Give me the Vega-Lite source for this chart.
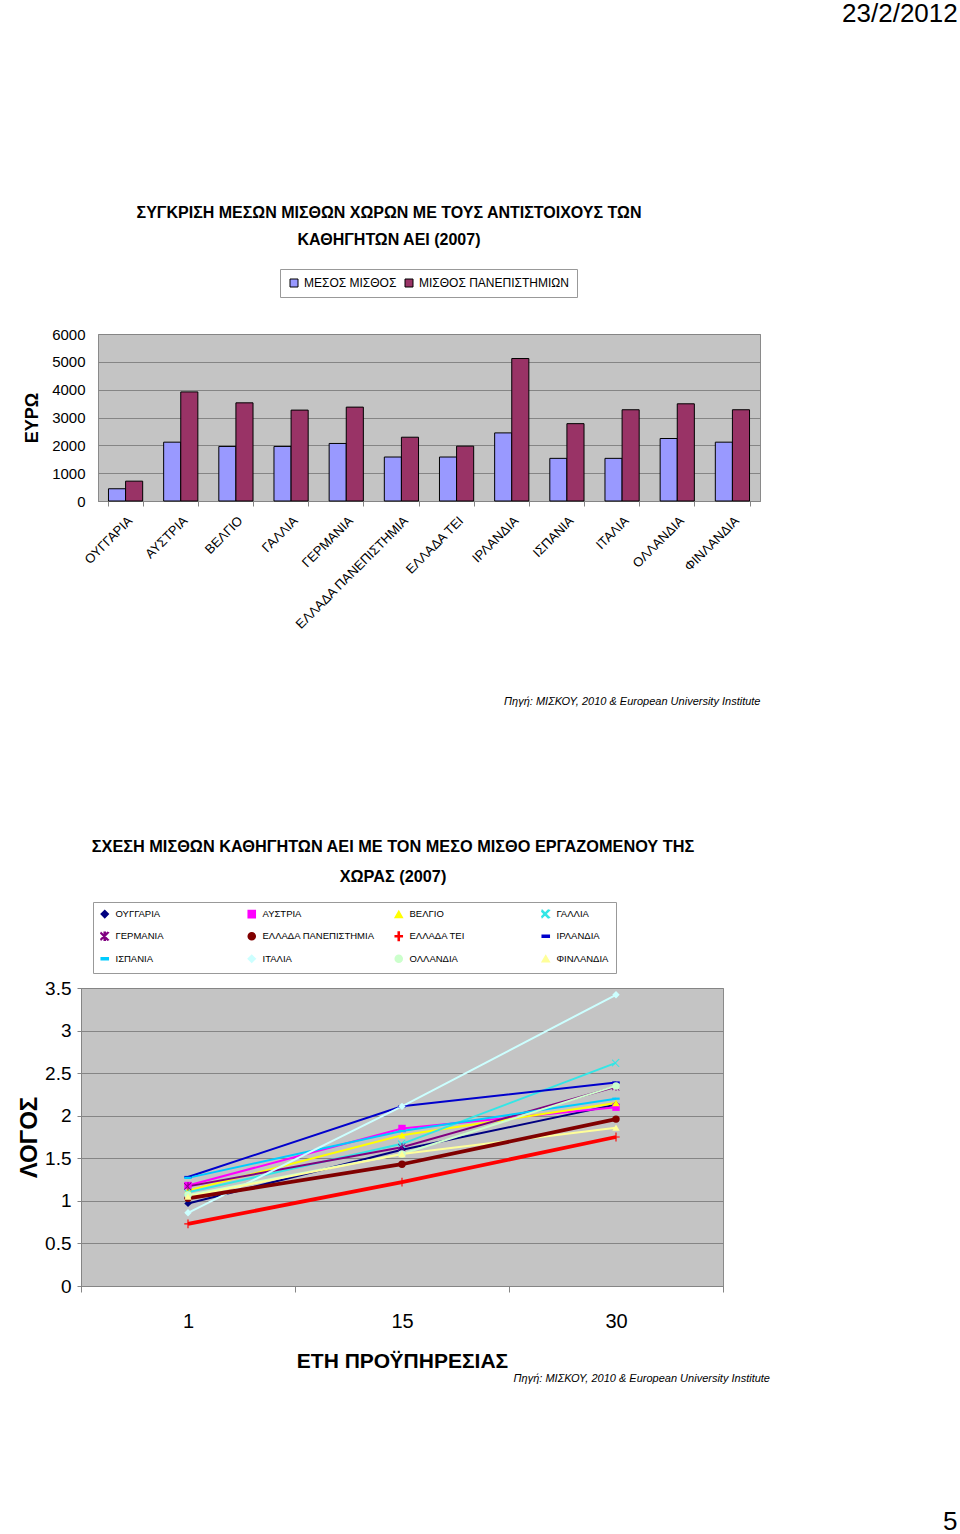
{
  "$schema": "https://vega.github.io/schema/vega-lite/v6.json",
  "padding": {"left": 17, "top": 0, "right": 0, "bottom": 0},
  "background": "white",
  "title": {"text": "23/2/2012", "anchor": "start", "font": "Liberation Sans", "fontSize": 26, "fontWeight": "normal", "color": "black", "offset": 178, "dx": 825},
  "resolve": {"scale": {"fill": "independent", "color": "independent", "shape": "independent"}, "legend": {"fill": "independent", "color": "independent", "shape": "independent"}},
  "vconcat": [
    {
      "title": {"text": "5", "orient": "bottom", "anchor": "start", "font": "Liberation Sans", "fontSize": 26, "fontWeight": "normal", "color": "black", "offset": 125, "dx": 926},
      "columns": 1,
      "spacing": 130,
      "resolve": {"scale": {"x": "independent", "y": "independent", "fill": "independent", "color": "independent", "shape": "independent"}, "legend": {"fill": "independent", "color": "independent", "shape": "independent"}},
      "concat": [
        {
          "spacing": -62,
          "hconcat": [
            {
              "width": 1,
              "height": 1,
              "view": {"stroke": null, "fill": null},
              "data": {"values": [{}]},
              "mark": {"type": "point", "opacity": 0},
              "encoding": {}
            },
            {
              "width": 662,
              "height": 167,
              "title": {"text": ["ΣΥΓΚΡΙΣΗ ΜΕΣΩΝ ΜΙΣΘΩΝ ΧΩΡΩΝ ΜΕ ΤΟΥΣ ΑΝΤΙΣΤΟΙΧΟΥΣ ΤΩΝ", "ΚΑΘΗΓΗΤΩΝ ΑΕΙ (2007)"], "font": "Liberation Sans", "fontSize": 16, "fontWeight": "bold", "lineHeight": 27, "color": "black", "dx": -40, "offset": 79},
              "data": {"values": [
                {"country": "ΟΥΓΓΑΡΙΑ", "series": "ΜΕΣΟΣ ΜΙΣΘΟΣ", "value": 440},
                {"country": "ΟΥΓΓΑΡΙΑ", "series": "ΜΙΣΘΟΣ ΠΑΝΕΠΙΣΤΗΜΙΩΝ", "value": 713},
                {"country": "ΑΥΣΤΡΙΑ", "series": "ΜΕΣΟΣ ΜΙΣΘΟΣ", "value": 2114},
                {"country": "ΑΥΣΤΡΙΑ", "series": "ΜΙΣΘΟΣ ΠΑΝΕΠΙΣΤΗΜΙΩΝ", "value": 3919},
                {"country": "ΒΕΛΓΙΟ", "series": "ΜΕΣΟΣ ΜΙΣΘΟΣ", "value": 1960},
                {"country": "ΒΕΛΓΙΟ", "series": "ΜΙΣΘΟΣ ΠΑΝΕΠΙΣΤΗΜΙΩΝ", "value": 3527},
                {"country": "ΓΑΛΛΙΑ", "series": "ΜΕΣΟΣ ΜΙΣΘΟΣ", "value": 1960},
                {"country": "ΓΑΛΛΙΑ", "series": "ΜΙΣΘΟΣ ΠΑΝΕΠΙΣΤΗΜΙΩΝ", "value": 3266},
                {"country": "ΓΕΡΜΑΝΙΑ", "series": "ΜΕΣΟΣ ΜΙΣΘΟΣ", "value": 2067},
                {"country": "ΓΕΡΜΑΝΙΑ", "series": "ΜΙΣΘΟΣ ΠΑΝΕΠΙΣΤΗΜΙΩΝ", "value": 3373},
                {"country": "ΕΛΛΑΔΑ ΠΑΝΕΠΙΣΤΗΜΙΑ", "series": "ΜΕΣΟΣ ΜΙΣΘΟΣ", "value": 1580},
                {"country": "ΕΛΛΑΔΑ ΠΑΝΕΠΙΣΤΗΜΙΑ", "series": "ΜΙΣΘΟΣ ΠΑΝΕΠΙΣΤΗΜΙΩΝ", "value": 2292},
                {"country": "ΕΛΛΑΔΑ ΤΕΙ", "series": "ΜΕΣΟΣ ΜΙΣΘΟΣ", "value": 1580},
                {"country": "ΕΛΛΑΔΑ ΤΕΙ", "series": "ΜΙΣΘΟΣ ΠΑΝΕΠΙΣΤΗΜΙΩΝ", "value": 1971},
                {"country": "ΙΡΛΑΝΔΙΑ", "series": "ΜΕΣΟΣ ΜΙΣΘΟΣ", "value": 2447},
                {"country": "ΙΡΛΑΝΔΙΑ", "series": "ΜΙΣΘΟΣ ΠΑΝΕΠΙΣΤΗΜΙΩΝ", "value": 5119},
                {"country": "ΙΣΠΑΝΙΑ", "series": "ΜΕΣΟΣ ΜΙΣΘΟΣ", "value": 1532},
                {"country": "ΙΣΠΑΝΙΑ", "series": "ΜΙΣΘΟΣ ΠΑΝΕΠΙΣΤΗΜΙΩΝ", "value": 2779},
                {"country": "ΙΤΑΛΙΑ", "series": "ΜΕΣΟΣ ΜΙΣΘΟΣ", "value": 1532},
                {"country": "ΙΤΑΛΙΑ", "series": "ΜΙΣΘΟΣ ΠΑΝΕΠΙΣΤΗΜΙΩΝ", "value": 3278},
                {"country": "ΟΛΛΑΝΔΙΑ", "series": "ΜΕΣΟΣ ΜΙΣΘΟΣ", "value": 2245},
                {"country": "ΟΛΛΑΝΔΙΑ", "series": "ΜΙΣΘΟΣ ΠΑΝΕΠΙΣΤΗΜΙΩΝ", "value": 3492},
                {"country": "ΦΙΝΛΑΝΔΙΑ", "series": "ΜΕΣΟΣ ΜΙΣΘΟΣ", "value": 2114},
                {"country": "ΦΙΝΛΑΝΔΙΑ", "series": "ΜΙΣΘΟΣ ΠΑΝΕΠΙΣΤΗΜΙΩΝ", "value": 3278}
              ]},
              "mark": {"type": "bar", "stroke": "black", "strokeWidth": 1},
              "encoding": {
                "x": {"field": "country", "type": "nominal", "sort": null,
                  "scale": {"paddingInner": 0.38, "paddingOuter": 0.19},
                  "axis": {"title": "Πηγή: ΜΙΣΚΟΥ, 2010 & European University Institute", "titleAnchor": "end", "titleFont": "Liberation Sans", "titleFontSize": 11, "titleFontStyle": "italic", "titleFontWeight": "normal", "titlePadding": 64, "labelAngle": -45, "labelFont": "Liberation Sans", "labelFontSize": 13, "labelPadding": 8, "tickBand": "extent", "ticks": true, "tickSize": 5, "grid": false, "labelLimit": 300}},
                "xOffset": {"field": "series", "sort": null},
                "y": {"field": "value", "type": "quantitative", "scale": {"domain": [0, 6000]},
                  "axis": {"values": [0, 1000, 2000, 3000, 4000, 5000, 6000], "format": "d", "title": "ΕΥΡΩ", "titleFont": "Liberation Sans", "titleFontSize": 18, "titleFontWeight": "bold", "titlePadding": 10, "labelFont": "Liberation Sans", "labelFontSize": 15, "ticks": false, "labelPadding": 13, "domain": false}},
                "fill": {"field": "series", "type": "nominal", "sort": null,
                  "scale": {"range": ["#9999ff", "#993366"]},
                  "legend": {"title": null, "orient": "none", "legendX": 199, "legendY": -65, "direction": "horizontal", "symbolType": "square", "symbolSize": 64, "symbolStrokeColor": "black", "symbolStrokeWidth": 1, "labelFont": "Liberation Sans", "labelFontSize": 12, "labelOffset": 4, "strokeColor": "#999999", "fillColor": "white", "padding": 8, "columnPadding": 6, "symbolOpacity": 1}}
              }
            }
          ]
        },
        {
          "title": {"text": "Πηγή: ΜΙΣΚΟΥ, 2010 & European University Institute", "orient": "bottom", "anchor": "end", "font": "Liberation Sans", "fontSize": 11, "fontStyle": "italic", "fontWeight": "normal", "color": "black", "offset": 0, "dx": 46, "dy": 1},
          "resolve": {"scale": {"color": "independent", "shape": "independent"}, "legend": {"color": "independent", "shape": "independent"}},
          "vconcat": [
            {
              "width": 642,
              "height": 298,
              "title": {"text": ["ΣΧΕΣΗ ΜΙΣΘΩΝ ΚΑΘΗΓΗΤΩΝ ΑΕΙ ΜΕ ΤΟΝ ΜΕΣΟ ΜΙΣΘΟ ΕΡΓΑΖΟΜΕΝΟΥ ΤΗΣ", "ΧΩΡΑΣ (2007)"], "font": "Liberation Sans", "fontSize": 16.3, "fontWeight": "bold", "lineHeight": 30, "color": "black", "dx": -9, "offset": 16},
              "data": {"values": [
                {"country": "ΟΥΓΓΑΡΙΑ", "years": "1", "ratio": 0.97},
                {"country": "ΟΥΓΓΑΡΙΑ", "years": "15", "ratio": 1.6},
                {"country": "ΟΥΓΓΑΡΙΑ", "years": "30", "ratio": 2.13},
                {"country": "ΑΥΣΤΡΙΑ", "years": "1", "ratio": 1.18},
                {"country": "ΑΥΣΤΡΙΑ", "years": "15", "ratio": 1.85},
                {"country": "ΑΥΣΤΡΙΑ", "years": "30", "ratio": 2.1},
                {"country": "ΒΕΛΓΙΟ", "years": "1", "ratio": 1.12},
                {"country": "ΒΕΛΓΙΟ", "years": "15", "ratio": 1.77},
                {"country": "ΒΕΛΓΙΟ", "years": "30", "ratio": 2.15},
                {"country": "ΓΑΛΛΙΑ", "years": "1", "ratio": 1.1},
                {"country": "ΓΑΛΛΙΑ", "years": "15", "ratio": 1.67},
                {"country": "ΓΑΛΛΙΑ", "years": "30", "ratio": 2.62},
                {"country": "ΓΕΡΜΑΝΙΑ", "years": "1", "ratio": 1.17},
                {"country": "ΓΕΡΜΑΝΙΑ", "years": "15", "ratio": 1.63},
                {"country": "ΓΕΡΜΑΝΙΑ", "years": "30", "ratio": 2.34},
                {"country": "ΕΛΛΑΔΑ ΠΑΝΕΠΙΣΤΗΜΙΑ", "years": "1", "ratio": 1.03},
                {"country": "ΕΛΛΑΔΑ ΠΑΝΕΠΙΣΤΗΜΙΑ", "years": "15", "ratio": 1.43},
                {"country": "ΕΛΛΑΔΑ ΠΑΝΕΠΙΣΤΗΜΙΑ", "years": "30", "ratio": 1.96},
                {"country": "ΕΛΛΑΔΑ ΤΕΙ", "years": "1", "ratio": 0.73},
                {"country": "ΕΛΛΑΔΑ ΤΕΙ", "years": "15", "ratio": 1.22},
                {"country": "ΕΛΛΑΔΑ ΤΕΙ", "years": "30", "ratio": 1.75},
                {"country": "ΙΡΛΑΝΔΙΑ", "years": "1", "ratio": 1.28},
                {"country": "ΙΡΛΑΝΔΙΑ", "years": "15", "ratio": 2.11},
                {"country": "ΙΡΛΑΝΔΙΑ", "years": "30", "ratio": 2.39},
                {"country": "ΙΣΠΑΝΙΑ", "years": "1", "ratio": 1.27},
                {"country": "ΙΣΠΑΝΙΑ", "years": "15", "ratio": 1.82},
                {"country": "ΙΣΠΑΝΙΑ", "years": "30", "ratio": 2.2},
                {"country": "ΙΤΑΛΙΑ", "years": "1", "ratio": 0.86},
                {"country": "ΙΤΑΛΙΑ", "years": "15", "ratio": 2.11},
                {"country": "ΙΤΑΛΙΑ", "years": "30", "ratio": 3.42},
                {"country": "ΟΛΛΑΝΔΙΑ", "years": "1", "ratio": 1.07},
                {"country": "ΟΛΛΑΝΔΙΑ", "years": "15", "ratio": 1.55},
                {"country": "ΟΛΛΑΝΔΙΑ", "years": "30", "ratio": 2.35},
                {"country": "ΦΙΝΛΑΝΔΙΑ", "years": "1", "ratio": 1.05},
                {"country": "ΦΙΝΛΑΝΔΙΑ", "years": "15", "ratio": 1.55},
                {"country": "ΦΙΝΛΑΝΔΙΑ", "years": "30", "ratio": 1.86}
              ]},
              "encoding": {
                "x": {"field": "years", "type": "ordinal", "sort": ["1", "15", "30"],
                  "scale": {"type": "band", "paddingInner": 0, "paddingOuter": 0},
                  "axis": {"title": "ΕΤΗ ΠΡΟΫΠΗΡΕΣΙΑΣ", "titleFont": "Liberation Sans", "titleFontSize": 21, "titleFontWeight": "bold", "titlePadding": 19, "labelAngle": 0, "labelFont": "Liberation Sans", "labelFontSize": 20, "labelPadding": 19, "tickBand": "extent", "ticks": true, "tickSize": 6, "grid": false}},
                "y": {"field": "ratio", "type": "quantitative", "scale": {"domain": [0, 3.5]},
                  "axis": {"values": [0, 0.5, 1, 1.5, 2, 2.5, 3, 3.5], "format": "~g", "title": "ΛΟΓΟΣ", "titleFont": "Liberation Sans", "titleFontSize": 24, "titleFontWeight": "bold", "titlePadding": 3, "labelFont": "Liberation Sans", "labelFontSize": 19, "ticks": true, "tickSize": 4, "labelPadding": 6}},
                "color": {"field": "country", "type": "nominal",
                  "scale": {"domain": ["ΟΥΓΓΑΡΙΑ", "ΑΥΣΤΡΙΑ", "ΒΕΛΓΙΟ", "ΓΑΛΛΙΑ", "ΓΕΡΜΑΝΙΑ", "ΕΛΛΑΔΑ ΠΑΝΕΠΙΣΤΗΜΙΑ", "ΕΛΛΑΔΑ ΤΕΙ", "ΙΡΛΑΝΔΙΑ", "ΙΣΠΑΝΙΑ", "ΙΤΑΛΙΑ", "ΟΛΛΑΝΔΙΑ", "ΦΙΝΛΑΝΔΙΑ"],
                    "range": ["#000080", "#ff00ff", "#ffff00", "#33e6e6", "#800080", "#800000", "#ff0000", "#0000cc", "#00ccff", "#ccffff", "#ccffcc", "#ffff99"]},
                  "legend": {"title": null, "orient": "none", "legendX": 12, "legendY": -86, "columns": 4, "direction": "horizontal", "gridAlign": "all", "columnPadding": 16, "rowPadding": 7.5, "labelFont": "Liberation Sans", "labelFontSize": 9.5, "labelOffset": 6, "symbolSize": 50, "strokeColor": "#999999", "fillColor": "white", "padding": 7, "symbolOpacity": 1}}
              },
              "layer": [
                {
                  "transform": [{"filter": {"not": {"field": "country", "oneOf": ["ΕΛΛΑΔΑ ΠΑΝΕΠΙΣΤΗΜΙΑ", "ΕΛΛΑΔΑ ΤΕΙ"]}}}],
                  "mark": {"type": "line", "strokeWidth": 2}
                },
                {
                  "transform": [{"filter": {"field": "country", "oneOf": ["ΕΛΛΑΔΑ ΠΑΝΕΠΙΣΤΗΜΙΑ", "ΕΛΛΑΔΑ ΤΕΙ"]}}],
                  "mark": {"type": "line", "strokeWidth": 3.8}
                },
                {
                  "mark": {"type": "point", "filled": true, "opacity": 1, "size": 55},
                  "encoding": {
                    "shape": {"field": "country", "type": "nominal",
                      "scale": {"domain": ["ΟΥΓΓΑΡΙΑ", "ΑΥΣΤΡΙΑ", "ΒΕΛΓΙΟ", "ΓΑΛΛΙΑ", "ΓΕΡΜΑΝΙΑ", "ΕΛΛΑΔΑ ΠΑΝΕΠΙΣΤΗΜΙΑ", "ΕΛΛΑΔΑ ΤΕΙ", "ΙΡΛΑΝΔΙΑ", "ΙΣΠΑΝΙΑ", "ΙΤΑΛΙΑ", "ΟΛΛΑΝΔΙΑ", "ΦΙΝΛΑΝΔΙΑ"],
                        "range": ["diamond", "square", "triangle-up", "M-1,-1L1,1L0.7,1.1L-1.1,-0.7ZM1,-1L-1,1L-1.1,0.7L0.7,-1.1Z", "M-1,-1L1,1L0.8,1.1L-1.1,-0.8ZM1,-1L-1,1L-1.1,0.8L0.8,-1.1ZM-0.15,-1.1L0.15,-1.1L0.15,1.1L-0.15,1.1Z", "circle", "M-1,-0.15L1,-0.15L1,0.15L-1,0.15ZM-0.15,-1.2L0.15,-1.2L0.15,1.2L-0.15,1.2Z", "M-1,-0.3L1,-0.3L1,0.3L-1,0.3Z", "M-1,-0.3L1,-0.3L1,0.3L-1,0.3Z", "diamond", "circle", "triangle-up"]},
                      "legend": {"title": null, "orient": "none", "legendX": 12, "legendY": -86, "columns": 4, "direction": "horizontal", "gridAlign": "all", "columnPadding": 16, "rowPadding": 7.5, "labelFont": "Liberation Sans", "labelFontSize": 9.5, "labelOffset": 6, "symbolSize": 50, "strokeColor": "#999999", "fillColor": "white", "padding": 7, "symbolOpacity": 1}}
                  }
                }
              ]
            }
          ]
        }
      ]
    }
  ],
  "config": {
    "font": "Liberation Sans",
    "view": {"fill": "#c4c4c4", "stroke": "#8a8a8a", "strokeWidth": 1},
    "axis": {"gridColor": "#858585", "gridWidth": 1, "domainColor": "#858585", "tickColor": "#858585", "labelColor": "black", "titleColor": "black"}
  }
}
